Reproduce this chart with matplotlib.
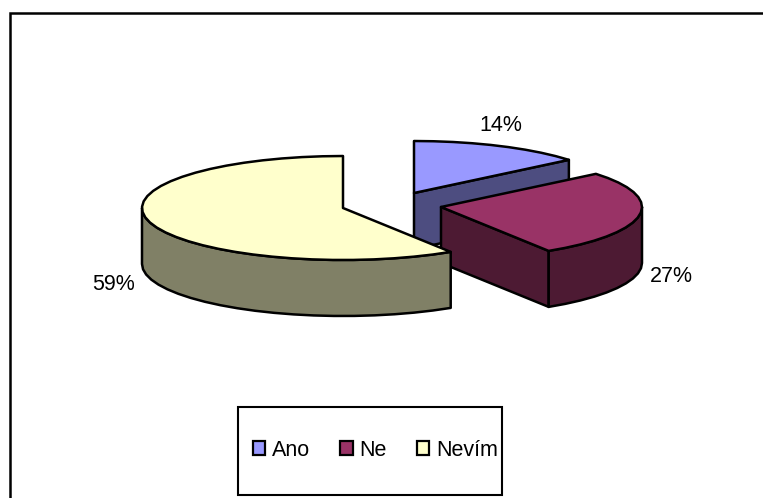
import matplotlib
matplotlib.use("Agg")
import matplotlib.pyplot as plt
from matplotlib.patches import Patch, Polygon, Rectangle
import numpy as np

plt.rcParams['font.family'] = ['Liberation Sans', 'DejaVu Sans']

labels = ["Ano", "Ne", "Nevím"]
values = [14, 27, 59]
top_colors = ["#9999FF", "#993366", "#FFFFCC"]
side_colors = ["#4D4D80", "#4D1A33", "#808066"]

# pie look, in pixels of the picture
centers = [(414, 193), (441, 207), (343, 208)]
label_pos = [(501, 125), (671, 276), (114, 284)]
rx, ry = 201, 52
depth = 56
lw = 1.8

fig = plt.figure(figsize=(7.63, 4.98), dpi=100)
ax = fig.add_axes([0, 0, 1, 1])
ax.set_xlim(0, 763)
ax.set_ylim(498, 0)
ax.axis("off")


def rim(cx, cy, a0, a1):
    n = int(abs(a1 - a0) / 6) + 2
    t = np.radians(np.linspace(a0, a1, n))
    return np.column_stack([cx + rx * np.sin(t), cy - ry * np.cos(t)])


# chart area frame: only top and left show
ax.plot([9.9, 9.9, 763], [498, 13.1, 13.1], color="black", lw=1.8,
        solid_joinstyle="miter", solid_capstyle="butt")

start = 0
for val, (cx, cy), top, side in zip(values, centers, top_colors, side_colors):
    end = start + val * 3.6
    down = np.array([0, depth])
    apex = np.array([[cx, cy]])

    # flat side below the closing edge of the slice (faces the viewer)
    if end < 180:
        p = rim(cx, cy, end, end)[:1]
        face = np.vstack([apex, p, p + down, apex + down])
        ax.add_patch(Polygon(face, closed=True, fc=side, ec="black", lw=lw, joinstyle="round"))
    # outer wall, front half only
    a0, a1 = max(start, 90), min(end, 270)
    if a1 > a0:
        arc = rim(cx, cy, a0, a1)
        wall = np.vstack([arc, (arc + down)[::-1]])
        ax.add_patch(Polygon(wall, closed=True, fc=side, ec="black", lw=lw, joinstyle="round"))
    # top of slice
    ax.add_patch(Polygon(np.vstack([apex, rim(cx, cy, start, end)]), closed=True,
                         fc=top, ec="black", lw=lw, joinstyle="round"))
    start = end

for val, (x, y) in zip(values, label_pos):
    ax.text(x, y, f"{val}%", fontsize=15.5, ha="center", va="center", color="black")

# legend box
ax.add_patch(Rectangle((238, 406.5), 264, 88.5, fc="white", ec="black", lw=1.5))
handles = [Patch(fc=c, ec="black", lw=1.6, label=l) for c, l in zip(top_colors, labels)]
ax.legend(handles=handles, ncol=3, frameon=False, fontsize=15.5, loc="center left",
          bbox_to_anchor=(253, 450), bbox_transform=ax.transData, borderpad=0, borderaxespad=0,
          handlelength=0.58, handleheight=0.58, handletextpad=0.32, columnspacing=1.38)

fig.savefig("out.png", dpi=100)
